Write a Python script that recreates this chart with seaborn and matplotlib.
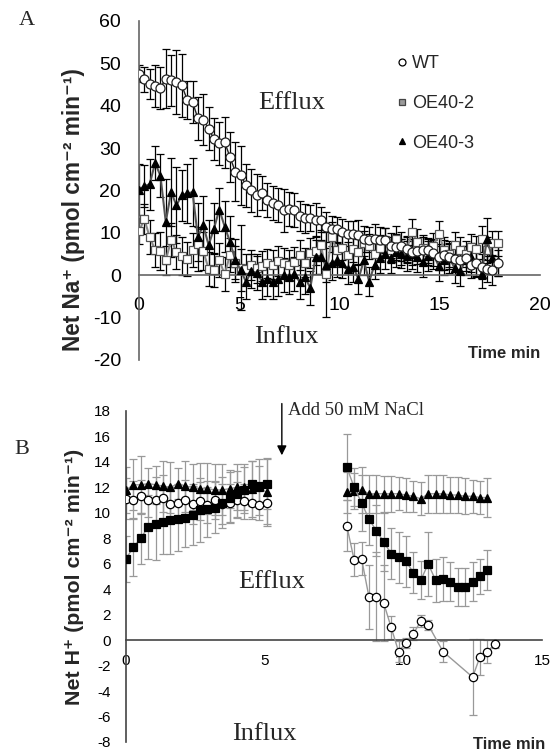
import numpy as np
import seaborn as sns
import matplotlib.pyplot as plt
from matplotlib.lines import Line2D

# ---- Panel A data: net Na+ flux, one reading every 0.267 min ----
step_a = 0.267
wt_na = [47.5, 46.2, 45.2, 44.6, 44.2, 46.4, 46.0, 45.6, 44.8, 41.4,
         40.9, 37.0, 36.7, 34.6, 32.2, 31.1, 31.4, 27.9, 24.4, 23.6,
         21.2, 20.0, 18.9, 19.3, 17.8, 17.1, 16.5, 15.3, 15.7, 15.5,
         13.9, 13.4, 13.5, 13.0, 13.1, 11.4, 11.0, 10.8, 10.2, 9.8,
         9.7, 9.5, 8.6, 8.4, 8.5, 8.4, 8.2, 7.0, 6.7, 6.8,
         6.2, 5.5, 5.7, 6.0, 5.9, 5.2, 4.3, 4.8, 4.4, 3.8,
         3.5, 4.0, 2.4, 2.8, 2.0, 1.5, 1.2, 2.9]
wt_na_err = [2.0, 3.0, 3.5, 5.0, 5.0, 7.0, 6.0, 7.5, 7.5, 4.5,
             5.0, 5.0, 6.0, 5.0, 5.0, 5.0, 6.0, 6.0, 7.0, 7.0,
             5.0, 5.0, 5.0, 4.0, 4.0, 4.0, 4.0, 5.0, 4.0, 4.0,
             3.5, 3.5, 3.0, 4.0, 3.0, 3.5, 3.0, 3.0, 3.0, 3.0,
             3.0, 3.5, 3.0, 3.0, 3.5, 3.0, 3.0, 3.0, 3.0, 3.5,
             3.0, 3.0, 3.0, 3.0, 3.0, 3.0, 3.0, 3.5, 3.0, 3.0,
             3.0, 3.0, 3.0, 3.0, 3.0, 3.0, 3.5, 3.0]
oe2_na = [10.4, 13.2, 9.0, 6.0, 5.8, 3.5, 8.3, 5.5, 4.5, 3.9,
          6.0, 7.4, 5.7, 1.5, 1.2, 3.5, 0.2, 4.8, 3.0, 1.8,
          1.5, 2.4, 1.6, 2.2, 2.8, 2.5, 3.4, 3.0, 2.4, 3.1,
          4.8, 3.0, 5.2, 5.8, 7.1, 0.2, 9.0, 5.9, 6.5, 4.8,
          6.2, 5.5, 7.5, 6.8, 5.0, 6.5, 8.2, 6.0, 8.6, 5.5,
          6.0, 10.2, 7.9, 6.5, 5.5, 7.0, 9.8, 6.0, 5.0, 7.2,
          6.0, 5.0, 6.7, 6.2, 8.6, 6.0, 7.5, 7.5]
oe2_na_err = [3.0, 3.5, 4.0, 4.0, 4.5, 3.5, 4.0, 4.0, 4.5, 4.0,
              4.0, 4.0, 4.5, 4.0, 4.0, 4.0, 4.0, 4.0, 4.0, 10.0,
              3.5, 3.5, 3.5, 3.5, 3.5, 3.5, 3.5, 3.5, 3.5, 3.5,
              3.5, 3.5, 3.5, 3.5, 3.5, 10.0, 3.5, 3.5, 3.0, 3.0,
              3.0, 3.0, 3.0, 3.0, 3.0, 3.0, 3.0, 3.0, 3.0, 3.0,
              3.0, 3.0, 3.0, 3.0, 3.0, 3.0, 3.0, 3.0, 3.0, 3.0,
              3.0, 3.0, 3.0, 3.0, 3.0, 3.0, 3.0, 3.0]
oe3_na = [20.2, 21.0, 21.5, 26.5, 23.5, 12.6, 19.6, 16.5, 18.9, 19.3,
          19.6, 9.0, 11.8, 7.1, 11.0, 15.5, 11.5, 7.9, 3.5, 1.2,
          -1.6, 1.0, 0.5, -1.5, -1.0, -1.5, -1.0, 0.0, -0.5, 0.2,
          -1.5, -0.5, -3.0, 4.3, 4.3, 2.4, 2.9, 3.5, 2.8, 1.4,
          2.0, -0.9, 3.5, -1.5, 2.5, 4.0, 5.0, 4.0, 5.5, 5.1,
          4.5, 5.0, 4.2, 3.1, 4.5, 5.0, 2.1, 3.5, 4.0, 1.6,
          1.0, 3.5, 4.2, 3.0, 0.4, 8.5, 4.0, 3.4]
oe3_na_err = [6.0, 5.0, 6.0, 4.0, 5.0, 10.0, 8.0, 9.0, 6.0, 7.0,
              8.0, 8.0, 7.0, 6.0, 6.0, 5.0, 6.0, 6.0, 5.0, 5.0,
              4.0, 4.0, 4.0, 4.0, 4.0, 4.0, 4.0, 4.0, 4.0, 4.0,
              4.0, 4.0, 4.0, 4.0, 4.0, 4.0, 4.0, 4.0, 3.5, 3.5,
              3.5, 3.5, 3.5, 3.5, 3.5, 3.5, 3.5, 3.5, 3.5, 3.5,
              3.5, 3.5, 3.5, 3.5, 3.5, 3.5, 3.5, 3.5, 3.5, 3.5,
              3.5, 3.5, 3.5, 3.5, 3.5, 5.0, 3.5, 3.5]

# ---- Panel B data: net H+ flux, before (seg1) and after (seg2) NaCl ----
step_b = 0.267
start_b2 = 7.96
wt_h1 = [11.1, 11.0, 11.3, 11.0, 11.0, 11.2, 10.7, 10.8, 11.0, 10.7,
         10.9, 10.6, 11.0, 10.7, 10.8, 11.0, 10.9, 10.8, 10.6, 10.8]
wt_h1_err = [1.6, 1.5, 1.3, 1.3, 1.8, 1.8, 1.2, 1.5, 1.6, 1.6,
             1.5, 1.4, 1.5, 1.6, 1.5, 1.4, 1.4, 1.3, 1.2, 1.7]
oe2_h1 = [6.4, 7.3, 8.0, 8.9, 9.1, 9.3, 9.4, 9.5, 9.6, 9.8,
          10.2, 10.3, 10.4, 10.8, 11.2, 11.5, 11.8, 12.3, 12.1, 12.3]
oe2_h1_err = [1.8, 2.3, 2.0, 2.5, 2.8, 2.5, 2.6, 2.5, 2.3, 2.3,
              2.5, 2.2, 2.0, 2.0, 2.0, 1.8, 1.8, 1.8, 1.6, 2.0]
oe3_h1 = [11.8, 12.2, 12.2, 12.3, 12.2, 12.1, 12.0, 12.3, 12.1, 12.0,
          11.9, 11.9, 11.8, 11.8, 11.9, 12.0, 12.0, 11.9, 12.0, 11.6]
oe3_h1_err = [1.8, 2.0, 2.3, 1.2, 1.5, 2.0, 2.0, 1.2, 2.0, 1.8,
              2.0, 2.0, 2.0, 2.0, 1.5, 1.8, 1.8, 2.2, 2.2, 2.6]

wt_h2 = [9.0, 6.3, 6.4, 3.4, 3.4, 2.9, 1.0, -0.9, -0.2, 0.5,
         1.5, 1.2, np.nan, -0.9, np.nan, np.nan, np.nan, -2.9, -1.3, -0.9, -0.3]
wt_h2_err = [2.0, 1.3, 1.3, 2.5, 3.5, 3.0, 0.9, 0.8, 0.4, 0.5,
             0.5, 0.4, np.nan, 0.8, np.nan, np.nan, np.nan, 3.0, 1.4, 0.9, 0.3]
oe2_h2 = [13.6, 12.0, 10.8, 9.5, 8.6, 7.7, 6.8, 6.5, 6.2, 5.3,
          4.7, 6.0, 4.7, 4.8, 4.6, 4.2, 4.2, 4.6, 5.0, 5.5]
oe2_h2_err = [2.6, 1.5, 2.2, 2.0, 2.0, 2.3, 2.0, 2.0, 2.0, 1.6,
              1.5, 2.5, 1.7, 1.7, 1.5, 1.5, 1.5, 1.5, 1.4, 1.6]
oe3_h2 = [11.6, 11.7, 11.8, 11.5, 11.5, 11.5, 11.5, 11.5, 11.4, 11.3,
          11.1, 11.5, 11.5, 11.5, 11.4, 11.4, 11.3, 11.3, 11.2, 11.2]
oe3_h2_err = [1.6, 1.4, 1.8, 1.5, 1.5, 1.4, 1.4, 1.3, 1.3, 1.2,
              1.3, 1.5, 1.5, 1.5, 1.4, 1.4, 1.4, 1.3, 1.3, 1.5]

sns.set_theme(style='white')
plt.rcParams['font.family'] = ['Liberation Sans', 'DejaVu Sans']
plt.rcParams['axes.unicode_minus'] = False
sans = ['Liberation Sans', 'DejaVu Sans']
serif = ['Liberation Serif', 'DejaVu Serif']


def draw_series(ax, t, y, err, marker, mfc, mec, line_color, ms, ecolor, lw=1.0):
    t = np.asarray(t, dtype=float)
    y = np.asarray(y, dtype=float)
    err = np.asarray(err, dtype=float)
    ax.errorbar(t, y, yerr=err, fmt='none', ecolor=ecolor, elinewidth=0.9,
                capsize=3, capthick=0.9, zorder=2)
    sns.lineplot(x=t, y=y, ax=ax, color=line_color, lw=lw, marker=marker,
                 markersize=ms, markerfacecolor=mfc, markeredgecolor=mec,
                 markeredgewidth=0.9, estimator=None, sort=False, zorder=3)


fig = plt.figure(figsize=(5.54, 7.52), dpi=100)

# ================= Panel A =================
axA = fig.add_axes([0.2509, 0.5213, 0.7238, 0.4508])
ta = np.arange(len(wt_na)) * step_a
draw_series(axA, ta, oe2_na, oe2_na_err, 's', 'white', '#555555', '#8a8a8a', 6, 'black', lw=1.5)
draw_series(axA, ta, oe3_na, oe3_na_err, '^', 'black', 'black', '#555555', 6, 'black', lw=1.5)
draw_series(axA, ta, wt_na, wt_na_err, 'o', 'white', '#222222', '#222222', 6.5, 'black', lw=1.0)

axA.set_xlim(0, 20)
axA.set_ylim(-20, 60)
axA.set_xticks([0, 5, 10, 15, 20])
axA.set_yticks(np.arange(-20, 61, 10))
for s in ['top', 'right']:
    axA.spines[s].set_visible(False)
axA.spines['left'].set_position(('data', 0))
axA.spines['bottom'].set_position(('data', 0))
for s in ['left', 'bottom']:
    axA.spines[s].set_color('#666666')
    axA.spines[s].set_linewidth(1.2)
axA.tick_params(axis='x', length=0, pad=16, labelsize=14, colors='black')
axA.tick_params(axis='y', length=0, pad=13, labelsize=14, colors='black')
axA.set_xlabel('')
axA.set_ylabel('Net Na⁺ (pmol cm⁻² min⁻¹)', family=sans, fontsize=16.3, fontweight='bold')
axA.yaxis.set_label_coords(-0.135, 0.443)

axA.text(7.6, 40.6, 'Efflux', family=serif, fontsize=19, ha='center', va='center')
axA.text(7.35, -14.5, 'Influx', family=serif, fontsize=19, ha='center', va='center')
axA.text(18.2, -18.5, 'Time min', fontsize=12, fontweight='bold', ha='center', va='center')
axA.text(-5.6, 60, 'A', family=serif, fontsize=16, ha='center', va='center')

handles = [
    Line2D([], [], ls='none', marker='o', mfc='white', mec='black', ms=5, mew=0.9),
    Line2D([], [], ls='none', marker='s', mfc='#9a9a9a', mec='#444444', ms=5, mew=0.9),
    Line2D([], [], ls='none', marker='^', mfc='black', mec='black', ms=5, mew=0.9),
]
axA.legend(handles, ['WT', 'OE40-2', 'OE40-3'], loc='upper left',
           bbox_to_anchor=(0.62, 0.925), frameon=False, fontsize=13,
           handlelength=0.6, handletextpad=0.25, labelspacing=1.25, borderpad=0)

# ================= Panel B =================
axB = fig.add_axes([0.2274, 0.0133, 0.7509, 0.4402])
tb1 = np.arange(len(wt_h1)) * step_b
tb2 = start_b2 + np.arange(len(wt_h2)) * step_b
tb2s = start_b2 + np.arange(len(oe2_h2)) * step_b
gray = '#999999'
draw_series(axB, tb1, oe3_h1, oe3_h1_err, '^', 'black', 'black', gray, 6, gray)
draw_series(axB, tb1, wt_h1, wt_h1_err, 'o', 'white', 'black', gray, 6, gray)
draw_series(axB, tb1, oe2_h1, oe2_h1_err, 's', 'black', 'black', gray, 6, gray)
draw_series(axB, tb2s, oe3_h2, oe3_h2_err, '^', 'black', 'black', gray, 6, gray)
draw_series(axB, tb2, wt_h2, wt_h2_err, 'o', 'white', 'black', gray, 6, gray)
draw_series(axB, tb2s, oe2_h2, oe2_h2_err, 's', 'black', 'black', gray, 6, gray)

axB.set_xlim(0, 15)
axB.set_ylim(-8, 18)
axB.set_xticks([0, 5, 10, 15])
axB.set_yticks(np.arange(-8, 19, 2))
for s in ['top', 'right']:
    axB.spines[s].set_visible(False)
axB.spines['left'].set_position(('data', 0))
axB.spines['bottom'].set_position(('data', 0))
for s in ['left', 'bottom']:
    axB.spines[s].set_color('#444444')
    axB.spines[s].set_linewidth(1.2)
axB.tick_params(axis='x', length=0, pad=10, labelsize=11, colors='black')
axB.tick_params(axis='y', length=0, pad=11, labelsize=11, colors='black')
axB.set_xlabel('')
axB.set_ylabel('Net H⁺ (pmol cm⁻² min⁻¹)', family=sans, fontsize=15.4, fontweight='bold')
axB.yaxis.set_label_coords(-0.1, 0.5)

axB.annotate('', xy=(5.62, 14.3), xytext=(5.62, 18.8), annotation_clip=False,
             arrowprops=dict(arrowstyle='-|>', color='black', lw=1.0, mutation_scale=14))
axB.text(5.85, 18.0, 'Add 50 mM NaCl', family=serif, fontsize=13.5, ha='left', va='center')
axB.text(5.27, 4.6, 'Efflux', family=serif, fontsize=19, ha='center', va='center')
axB.text(5.0, -7.4, 'Influx', family=serif, fontsize=19, ha='center', va='center')
axB.text(13.8, -8.2, 'Time min', fontsize=12, fontweight='bold', ha='center', va='center')
axB.text(-3.75, 15.0, 'B', family=serif, fontsize=16, ha='center', va='center')

fig.savefig('out.png', dpi=100)
